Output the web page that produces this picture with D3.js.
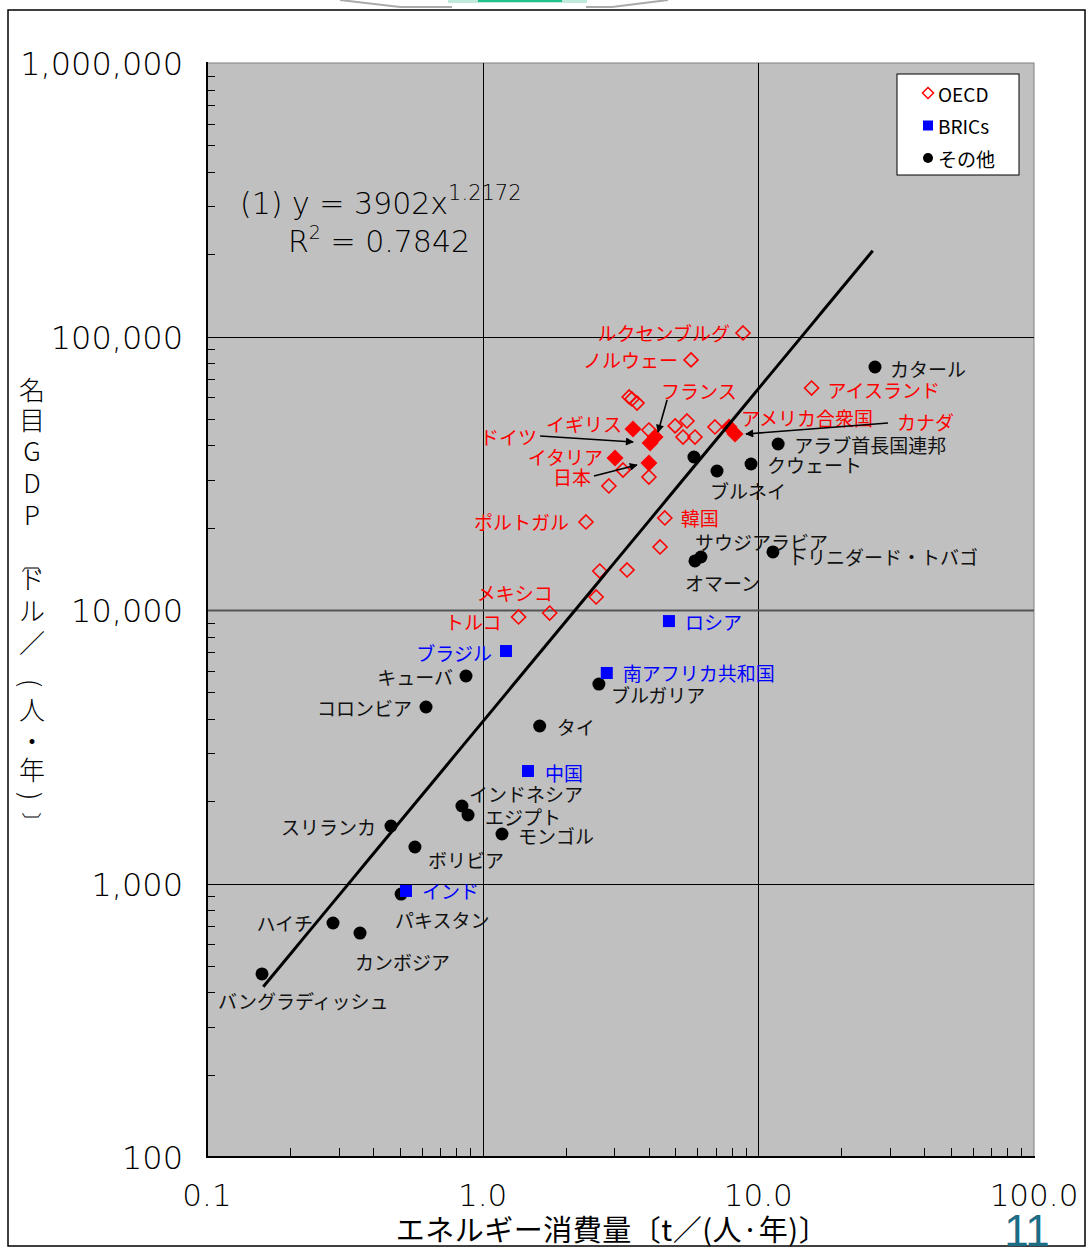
<!DOCTYPE html>
<html>
<head>
<meta charset="utf-8">
<script src="https://cdn.jsdelivr.net/npm/d3@7"></script>
<style>
  body { margin: 0; background: #fff; }
  svg { display: block; }
</style>
</head>
<body>
<script>
// ---- axis ticks ----
const xTicks = [0.1, 1, 10, 100];
const xTickLabels = ["0.1", "1.0", "10.0", "100.0"];
const yTicks = [100, 1000, 10000, 100000, 1000000];
const yTickLabels = ["100", "1,000", "10,000", "100,000", "1,000,000"];

// ---- OECD members: energy use [t/(person·yr)], nominal GDP [$/(person·yr)] ----
const oecdNames = ["ルクセンブルグ", "ノルウェー", null, null, null, "イギリス", null, "フランス", "ドイツ",
  null, null, null, null, null, "アメリカ合衆国", "カナダ", "イタリア", "日本", null, null, null,
  "ポルトガル", "韓国", null, null, null, null, "メキシコ", "トルコ", "アイスランド"];
const oecdEnergy = [8.80, 5.70, 3.40, 3.48, 3.63, 3.51, 4.01, 4.22, 4.05,
  4.99, 5.51, 5.33, 5.89, 6.96, 7.83, 8.23, 3.02, 4.01, 3.23, 4.01, 2.87,
  2.37, 4.58, 4.40, 2.66, 3.34, 2.58, 1.75, 1.35, 15.6];
const oecdGdp = [103000, 82100, 60100, 59100, 57100, 45900, 45500, 42900, 40800,
  47100, 49100, 42900, 42900, 46700, 46700, 44000, 35950, 34480, 32500, 30640, 28410,
  20980, 21700, 17000, 13880, 14010, 11160, 9750, 9430, 64800];
// G7 members are drawn as filled diamonds
const g7 = ["イギリス", "フランス", "ドイツ", "イタリア", "日本", "アメリカ合衆国", "カナダ"];

// ---- BRICs ----
const bricsNames = ["ロシア", "ブラジル", "南アフリカ共和国", "中国", "インド"];
const bricsEnergy = [4.74, 1.215, 2.82, 1.46, 0.527];
const bricsGdp = [9110, 7080, 5885, 2578, 939];

// ---- other countries ----
const otherNames = ["カタール", "アラブ首長国連邦", "クウェート", null, "ブルネイ", "サウジアラビア", "オマーン",
  "トリニダード・トバゴ", "キューバ", "コロンビア", "ブルガリア", "タイ", "インドネシア", "エジプト",
  "モンゴル", "スリランカ", "ボリビア", "パキスタン", "ハイチ", "カンボジア", "バングラディッシュ"];
const otherEnergy = [26.5, 11.8, 9.41, 5.84, 7.08, 6.19, 5.89,
  11.3, 0.870, 0.623, 2.64, 1.61, 0.841, 0.885,
  1.175, 0.465, 0.568, 0.506, 0.2865, 0.359, 0.1583];
const otherGdp = [77350, 40460, 34190, 36260, 32230, 15620, 15110,
  16300, 5737, 4420, 5362, 3766, 1920, 1780,
  1517, 1623, 1360, 915, 717, 659, 467];

// ---- power-law fit y = a·x^b ----
const fitA = 3902, fitB = 1.2172;
const fitR2 = "0.7842";
const fitRange = [0.16, 26];

// label offsets from the mark: [dx, dy, anchor]
const labelPlace = {
  "ルクセンブルグ": [-13, 0, "end"], "ノルウェー": [-13, 0, "end"], "フランス": [6, -47, "start"],
  "イギリス": [-11, -5, "end"], "ドイツ": [-113, -6, "end"], "イタリア": [-12, -2, "end"],
  "日本": [-58, 14, "end"], "アメリカ合衆国": [12, -9, "start"], "カナダ": [162, -13, "start"],
  "アイスランド": [16, 1, "start"], "ポルトガル": [-17, 0, "end"], "韓国": [16, 0, "start"],
  "メキシコ": [3, -21, "end"], "トルコ": [-17, 5, "end"],
  "ロシア": [16, 0, "start"], "ブラジル": [-14, 1, "end"], "南アフリカ共和国": [16, 0, "start"],
  "中国": [17, 1, "start"], "インド": [16, 0, "start"],
  "カタール": [15, 1, "start"], "アラブ首長国連邦": [16, 1, "start"], "クウェート": [16, 1, "start"],
  "ブルネイ": [-7, 20, "start"], "サウジアラビア": [-6, -16, "start"], "オマーン": [-10, 22, "start"],
  "トリニダード・トバゴ": [15, 5, "start"], "キューバ": [-13, 1, "end"], "コロンビア": [-14, 1, "end"],
  "ブルガリア": [12, 10, "start"], "タイ": [17, 1, "start"], "インドネシア": [7, -13, "start"],
  "エジプト": [17, 1, "start"], "モンゴル": [16, 1, "start"], "スリランカ": [-15, 1, "end"],
  "ボリビア": [13, 13, "start"], "パキスタン": [-6, 25, "start"], "ハイチ": [-20, -1, "end"],
  "カンボジア": [-5, 28, "start"], "バングラディッシュ": [-44, 27, "start"]
};
// leader arrows from label to mark: [[x0,y0],[x1,y1]] relative to the mark
const leaderArrows = {
  "フランス": [[12, -37], [3, -5]],
  "ドイツ": [[-110, -7], [-17, -1]],
  "日本": [[-55, 13], [-12, 2]],
  "カナダ": [[153, -11], [11, 0]]
};

const W = 1091, H = 1248;
const plot = { left: 207, right: 1034, top: 63, bottom: 1157 };
const jpFont = "'Noto Sans CJK JP', 'Noto Sans', sans-serif";
const numFont = "'DejaVu Sans', sans-serif";

const svg = d3.select("body").append("svg").attr("width", W).attr("height", H);

// outer page frame and header remnant
svg.append("rect").attr("x", 8).attr("y", 10).attr("width", 1077).attr("height", 1236)
  .attr("fill", "#fff").attr("stroke", "#000").attr("stroke-width", 1.5);
svg.append("path").attr("d", "M340,0 L400,7 L452,7 M586,7 L612,7 L668,0")
  .attr("fill", "none").attr("stroke", "#aaa").attr("stroke-width", 2);
svg.append("rect").attr("x", 448).attr("y", 0).attr("width", 139).attr("height", 3).attr("fill", "#bfe9d9");
svg.append("rect").attr("x", 478).attr("y", 0).attr("width", 84).attr("height", 2).attr("fill", "#21c08d");

const x = d3.scaleLog().domain([0.1, 100]).range([plot.left, plot.right]);
const y = d3.scaleLog().domain([100, 1000000]).range([plot.bottom, plot.top]);

// plot background
svg.append("rect").attr("x", plot.left).attr("y", plot.top)
  .attr("width", plot.right - plot.left).attr("height", plot.bottom - plot.top)
  .attr("fill", "#c0c0c0").attr("stroke", "#808080").attr("stroke-width", 1);

// major grid lines
const grid = svg.append("g");
grid.selectAll("line.gx").data(xTicks.slice(1, -1)).join("line")
  .attr("x1", d => Math.round(x(d)) + 0.5).attr("x2", d => Math.round(x(d)) + 0.5)
  .attr("y1", plot.top).attr("y2", plot.bottom).attr("stroke", "#000").attr("stroke-width", 1);
grid.selectAll("line.gy").data(yTicks.slice(1, -1)).join("line")
  .attr("y1", d => Math.round(y(d)) + 0.5).attr("y2", d => Math.round(y(d)) + 0.5)
  .attr("x1", plot.left).attr("x2", plot.right)
  .attr("stroke", d => d === 10000 ? "#555" : "#000").attr("stroke-width", d => d === 10000 ? 2 : 1);

// minor ticks (inside the plot)
const minorX = [], minorY = [];
xTicks.slice(0, -1).forEach(d => { for (let k = 2; k <= 9; k++) minorX.push(d * k); });
yTicks.slice(0, -1).forEach(d => { for (let k = 2; k <= 9; k++) minorY.push(d * k); });
svg.append("g").selectAll("line").data(minorX).join("line")
  .attr("x1", d => Math.round(x(d)) + 0.5).attr("x2", d => Math.round(x(d)) + 0.5)
  .attr("y1", plot.bottom).attr("y2", plot.bottom - 9).attr("stroke", "#000");
svg.append("g").selectAll("line").data(minorY).join("line")
  .attr("y1", d => Math.round(y(d)) + 0.5).attr("y2", d => Math.round(y(d)) + 0.5)
  .attr("x1", plot.left).attr("x2", plot.left + 8).attr("stroke", "#000");

// axis lines
svg.append("line").attr("x1", plot.left).attr("x2", plot.left).attr("y1", plot.top - 1).attr("y2", plot.bottom + 1)
  .attr("stroke", "#000").attr("stroke-width", 2);
svg.append("line").attr("x1", plot.left - 1).attr("x2", plot.right + 1).attr("y1", plot.bottom).attr("y2", plot.bottom)
  .attr("stroke", "#000").attr("stroke-width", 2);

// tick labels
svg.append("g").selectAll("text").data(yTicks).join("text")
  .attr("x", 183).attr("y", d => y(d) + 1).attr("text-anchor", "end").attr("dominant-baseline", "central")
  .attr("font-family", numFont).attr("font-weight", 200).attr("font-size", 32).attr("fill", "#000")
  .text((d, i) => yTickLabels[i]);
svg.append("g").selectAll("text").data(xTicks).join("text")
  .attr("x", d => x(d)).attr("y", 1195).attr("text-anchor", "middle").attr("dominant-baseline", "central")
  .attr("font-family", numFont).attr("font-weight", 200).attr("font-size", 31).attr("fill", "#000")
  .text((d, i) => xTickLabels[i]);

// axis titles
svg.append("text").attr("x", 612).attr("y", 1228).attr("text-anchor", "middle").attr("dominant-baseline", "central")
  .attr("font-family", jpFont).attr("font-size", 29).attr("letter-spacing", 0.5).attr("fill", "#000")
  .text("エネルギー消費量〔t／(人·年)〕");

// vertical y-axis title: one glyph per row, brackets turned a quarter turn
const yTitleChars = ["名", "目", "G", "D", "P", "〔", "ド", "ル", "／", "(", "人", "・", "年", ")", "〕"];
const yTitlePos = [388, 418, 449, 481, 513, 563, 577, 609, 641, 683, 708, 739, 768, 796, 822];
const yTitleTurned = ["〔", "(", ")", "〕"];
svg.append("g").selectAll("text").data(yTitleChars).join("text")
  .attr("x", 0).attr("y", 0)
  .attr("transform", (d, i) => `translate(32,${yTitlePos[i]})` + (yTitleTurned.includes(d) ? " rotate(90)" : ""))
  .attr("text-anchor", "middle").attr("dominant-baseline", "central")
  .attr("font-family", jpFont).attr("font-weight", 300)
  .attr("font-size", d => d === "〔" || d === "〕" ? 20 : 26).attr("fill", "#000")
  .text(d => d);

// marks
const toPoints = (names, ex, gd) => names.map((n, i) => ({ name: n, e: ex[i], g: gd[i] }));
const oecdPts = toPoints(oecdNames, oecdEnergy, oecdGdp);
const bricsPts = toPoints(bricsNames, bricsEnergy, bricsGdp);
const otherPts = toPoints(otherNames, otherEnergy, otherGdp);

const diamond = s => `M0,${-s} L${s},0 L0,${s} L${-s},0 Z`;
const marks = svg.append("g");
marks.selectAll("circle").data(otherPts).join("circle")
  .attr("cx", d => x(d.e)).attr("cy", d => y(d.g)).attr("r", 6.5).attr("fill", "#000");
marks.selectAll("rect").data(bricsPts).join("rect")
  .attr("x", d => x(d.e) - 6).attr("y", d => y(d.g) - 6).attr("width", 12).attr("height", 12).attr("fill", "#0000ff");
marks.selectAll("path.open").data(oecdPts.filter(d => !g7.includes(d.name))).join("path")
  .attr("class", "open").attr("transform", d => `translate(${x(d.e)},${y(d.g)})`)
  .attr("d", diamond(7)).attr("fill", "none").attr("stroke", "#ff0000").attr("stroke-width", 1.6);
marks.selectAll("path.g7").data(oecdPts.filter(d => g7.includes(d.name))).join("path")
  .attr("class", "g7").attr("transform", d => `translate(${x(d.e)},${y(d.g)})`)
  .attr("d", diamond(8.5)).attr("fill", "#ff0000");

// regression curve
const fitXs = d3.range(0, 61).map(i => fitRange[0] * Math.pow(fitRange[1] / fitRange[0], i / 60));
svg.append("path").datum(fitXs)
  .attr("d", d3.line().x(d => x(d)).y(d => y(fitA * Math.pow(d, fitB))))
  .attr("fill", "none").attr("stroke", "#000").attr("stroke-width", 3).attr("stroke-linejoin", "round");

// labels
const labelled = [
  ...oecdPts.map(d => ({ ...d, color: "#ff0000" })),
  ...bricsPts.map(d => ({ ...d, color: "#0000ff" })),
  ...otherPts.map(d => ({ ...d, color: "#111" }))
].filter(d => d.name && labelPlace[d.name]);
svg.append("g").selectAll("text").data(labelled).join("text")
  .attr("x", d => x(d.e) + labelPlace[d.name][0])
  .attr("y", d => y(d.g) + labelPlace[d.name][1])
  .attr("text-anchor", d => labelPlace[d.name][2]).attr("dominant-baseline", "central")
  .attr("font-family", jpFont).attr("font-size", 19).attr("fill", d => d.color)
  .text(d => d.name);

// leader arrows
svg.append("defs").append("marker").attr("id", "arrowhead")
  .attr("viewBox", "0 0 10 10").attr("refX", 9).attr("refY", 5)
  .attr("markerWidth", 10).attr("markerHeight", 8).attr("markerUnits", "userSpaceOnUse").attr("orient", "auto")
  .append("path").attr("d", "M0,0 L10,5 L0,10 Z").attr("fill", "#000");
const arrowed = oecdPts.filter(d => leaderArrows[d.name]);
svg.append("g").selectAll("line").data(arrowed).join("line")
  .attr("x1", d => x(d.e) + leaderArrows[d.name][0][0]).attr("y1", d => y(d.g) + leaderArrows[d.name][0][1])
  .attr("x2", d => x(d.e) + leaderArrows[d.name][1][0]).attr("y2", d => y(d.g) + leaderArrows[d.name][1][1])
  .attr("stroke", "#000").attr("stroke-width", 1.6).attr("marker-end", "url(#arrowhead)");

// fit equation
const eq = svg.append("text").attr("x", 240).attr("y", 214)
  .attr("font-family", numFont).attr("font-weight", 200).attr("font-size", 30).attr("fill", "#000");
eq.append("tspan").text(`(1) y = ${fitA}x`);
eq.append("tspan").attr("dy", -14).attr("font-size", 21).text(fitB);
const r2 = svg.append("text").attr("x", 288).attr("y", 252)
  .attr("font-family", numFont).attr("font-weight", 200).attr("font-size", 30).attr("fill", "#000");
r2.append("tspan").text("R");
r2.append("tspan").attr("dy", -13).attr("font-size", 19).text("2");
r2.append("tspan").attr("dy", 13).text(` = ${fitR2}`);

// legend
const legend = svg.append("g").attr("transform", "translate(897,74)");
legend.append("rect").attr("width", 122).attr("height", 101).attr("fill", "#fff").attr("stroke", "#000").attr("stroke-width", 1);
const legendItems = ["OECD", "BRICs", "その他"];
const legendRows = legend.selectAll("g").data(legendItems).join("g")
  .attr("transform", (d, i) => `translate(0,${19 + i * 32.5})`);
legendRows.each(function (d, i) {
  const g = d3.select(this);
  if (i === 0) g.append("path").attr("transform", "translate(31,0)").attr("d", diamond(5.5))
    .attr("fill", "none").attr("stroke", "#ff0000").attr("stroke-width", 1.5);
  if (i === 1) g.append("rect").attr("x", 26).attr("y", -5).attr("width", 10).attr("height", 10).attr("fill", "#0000ff");
  if (i === 2) g.append("circle").attr("cx", 31).attr("r", 5).attr("fill", "#000");
});
legendRows.append("text").attr("x", 41).attr("dominant-baseline", "central")
  .attr("font-family", jpFont).attr("font-size", 19).attr("fill", "#000").text(d => d);

// page number
svg.append("text").attr("x", 1027).attr("y", 1246).attr("text-anchor", "middle")
  .attr("font-family", "'Liberation Sans Narrow', 'Liberation Sans', sans-serif").attr("font-size", 44)
  .attr("fill", "#1b6c84").text("11");
</script>
</body>
</html>
